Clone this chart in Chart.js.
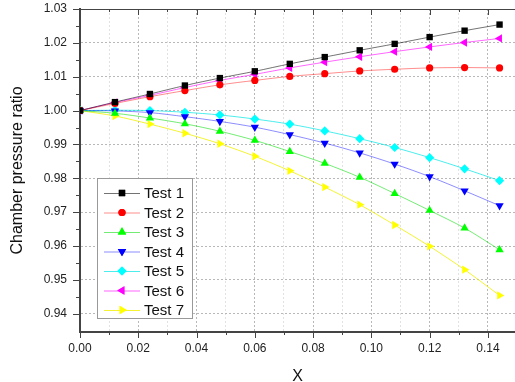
<!DOCTYPE html>
<html>
<head>
<meta charset="utf-8">
<script src="https://cdn.jsdelivr.net/npm/chart.js@4.4.1/dist/chart.umd.min.js"></script>
<style>
    html, body { margin: 0; padding: 0; background: #fff; }
    #wrap { width: 515px; height: 382px; position: relative; }
</style>
</head>
<body>
<div id="wrap"><canvas id="pressureChart"></canvas></div>
<script>
// Datos
const xValues = [0, 0.012, 0.024, 0.036, 0.048, 0.060, 0.072, 0.084, 0.096, 0.108, 0.120, 0.132, 0.144];

const test1 = [1.0000, 1.0025, 1.0049, 1.0074, 1.0096, 1.0116, 1.0138, 1.0158, 1.0178, 1.0197, 1.0217, 1.0236, 1.0254];
const test2 = [1.0000, 1.0021, 1.0041, 1.0059, 1.0076, 1.0089, 1.0101, 1.0109, 1.0117, 1.0122, 1.0126, 1.0127, 1.0126];
const test3 = [1.0000, 0.9992, 0.9978, 0.9961, 0.9939, 0.9912, 0.9879, 0.9844, 0.9803, 0.9755, 0.9705, 0.9653, 0.9589];
const test4 = [1.0000, 0.9999, 0.9994, 0.9982, 0.9968, 0.9951, 0.9929, 0.9904, 0.9875, 0.9842, 0.9805, 0.9763, 0.9719];
const test5 = [1.0000, 1.0001, 1.0000, 0.9995, 0.9987, 0.9975, 0.9960, 0.9940, 0.9917, 0.9891, 0.9861, 0.9828, 0.9793];
const test6 = [1.0000, 1.0024, 1.0045, 1.0068, 1.0089, 1.0107, 1.0126, 1.0143, 1.0159, 1.0174, 1.0188, 1.0201, 1.0213];
const test7 = [1.0000, 0.9984, 0.9960, 0.9933, 0.9902, 0.9865, 0.9822, 0.9774, 0.9722, 0.9662, 0.9599, 0.9530, 0.9454];

const seriesNames = ['Test 1', 'Test 2', 'Test 3', 'Test 4', 'Test 5', 'Test 6', 'Test 7'];

const xTicks = [0, 0.01, 0.02, 0.03, 0.04, 0.05, 0.06, 0.07, 0.08, 0.09, 0.10, 0.11, 0.12, 0.13, 0.14];
const yTicks = [0.94, 0.945, 0.95, 0.955, 0.96, 0.965, 0.97, 0.975, 0.98, 0.985, 0.99, 0.995, 1.00, 1.005, 1.01, 1.015, 1.02, 1.025, 1.03];

// Estilos de cada serie
const styles = [
    { color: '#000000', line: 'rgba(0,0,0,0.55)',      shape: 'rect',     rot: 0,   r: 4.5 },
    { color: '#ff0000', line: 'rgba(255,0,0,0.45)',    shape: 'circle',   rot: 0,   r: 3.6 },
    { color: '#00ff00', line: 'rgba(0,220,0,0.55)',    shape: 'triangle', rot: 0,   r: 4.8 },
    { color: '#0000ff', line: 'rgba(0,0,255,0.45)',    shape: 'triangle', rot: 180, r: 4.8 },
    { color: '#00ffff', line: 'rgba(0,230,230,0.7)',   shape: 'rectRot',  rot: 0,   r: 4.6 },
    { color: '#ff00ff', line: 'rgba(255,0,255,0.6)',   shape: 'triangle', rot: 270, r: 4.8 },
    { color: '#ffff00', line: 'rgba(240,240,0,0.8)',   shape: 'triangle', rot: 90,  r: 4.8 }
];

const allSeries = [test1, test2, test3, test4, test5, test6, test7];

function isMajor(v, step) {
    return Math.abs(Math.round(v / step) * step - v) < 1e-9;
}

// Marcas de eje (mayores y menores) y borde superior
const axisTicksPlugin = {
    id: 'axisTicks',
    afterDraw(chart) {
        const { ctx, chartArea, scales } = chart;
        ctx.save();
        ctx.strokeStyle = '#444';
        ctx.lineWidth = 1;
        // borde superior
        ctx.beginPath();
        ctx.moveTo(chartArea.left, chartArea.top + 0.5);
        ctx.lineTo(chartArea.right, chartArea.top + 0.5);
        ctx.stroke();
        ctx.beginPath();
        xTicks.forEach(v => {
            const px = Math.round(scales.x.getPixelForValue(v)) + 0.5;
            const len = isMajor(v, 0.02) ? 6 : 3;
            ctx.moveTo(px, chartArea.bottom);
            ctx.lineTo(px, chartArea.bottom + len);
            ctx.moveTo(px, chartArea.top);
            ctx.lineTo(px, chartArea.top + len);
        });
        yTicks.forEach(v => {
            const py = Math.round(scales.y.getPixelForValue(v)) + 0.5;
            const len = isMajor(v, 0.01) ? 7 : 4;
            ctx.moveTo(chartArea.left, py);
            ctx.lineTo(chartArea.left - len, py);
        });
        ctx.stroke();
        ctx.restore();
    }
};

// Leyenda dentro del área del gráfico
const insideLegendPlugin = {
    id: 'insideLegend',
    afterDraw(chart) {
        const ctx = chart.ctx;
        const box = { x: 97.5, y: 178.5, w: 95, h: 140 };
        ctx.save();
        ctx.fillStyle = '#fff';
        ctx.fillRect(box.x, box.y, box.w, box.h);
        ctx.strokeStyle = '#999';
        ctx.lineWidth = 1;
        ctx.strokeRect(box.x, box.y, box.w, box.h);
        ctx.font = '15px "Liberation Sans", Arial, sans-serif';
        ctx.textBaseline = 'middle';
        chart.data.datasets.forEach((ds, i) => {
            const y = 193 + i * 19.5;
            ctx.strokeStyle = ds.borderColor;
            ctx.lineWidth = 1;
            ctx.beginPath();
            ctx.moveTo(104, y + 0.5);
            ctx.lineTo(140, y + 0.5);
            ctx.stroke();
            ctx.fillStyle = ds.pointBackgroundColor;
            Chart.helpers.drawPoint(ctx, {
                pointStyle: ds.pointStyle,
                radius: ds.pointRadius,
                rotation: ds.pointRotation,
                borderWidth: 0
            }, 122, y);
            ctx.fill();
            ctx.fillStyle = '#111';
            ctx.fillText(ds.label, 144, y + 1);
        });
        ctx.restore();
    }
};

function initPressureChart() {
    const ctx = document.getElementById('pressureChart').getContext('2d');

    const datasets = allSeries.map((values, i) => ({
        label: seriesNames[i],
        data: values.map((v, j) => ({ x: xValues[j], y: v })),
        borderColor: styles[i].line,
        borderWidth: 1,
        pointStyle: styles[i].shape,
        pointRotation: styles[i].rot,
        pointRadius: styles[i].r,
        pointBackgroundColor: styles[i].color,
        pointBorderWidth: 0,
        tension: 0.3,
        fill: false
    }));

    Chart.defaults.font.family = '"Liberation Sans", Arial, sans-serif';
    Chart.defaults.color = '#222';

    new Chart(ctx, {
        type: 'line',
        data: { datasets },
        options: {
            responsive: true,
            maintainAspectRatio: false,
            animation: false,
            layout: { autoPadding: false, padding: { top: 9, right: 0, left: 0, bottom: 0 } },
            plugins: {
                legend: { display: false },
                tooltip: { enabled: false }
            },
            scales: {
                x: {
                    type: 'linear',
                    min: 0,
                    max: 0.1493,
                    afterBuildTicks: scale => { scale.ticks = xTicks.map(v => ({ value: v })); },
                    afterFit: scale => {
                        scale.height = 50;
                        scale.paddingRight = 0;
                        scale.paddingLeft = 0;
                    },
                    ticks: {
                        autoSkip: false,
                        maxRotation: 0,
                        padding: 9,
                        font: { size: 12 },
                        color: '#222',
                        callback: v => isMajor(v, 0.02) ? v.toFixed(2) : ''
                    },
                    grid: {
                        drawTicks: false,
                        color: c => (c.tick && isMajor(c.tick.value, 0.02)) ? '#b8b8b8' : '#e2e2e2'
                    },
                    border: { color: '#444', width: 2, dash: [2, 2] },
                    title: {
                        display: true,
                        text: 'X',
                        font: { size: 16 },
                        color: '#111',
                        padding: { top: 0, bottom: -4 }
                    }
                },
                y: {
                    type: 'linear',
                    min: 0.9346,
                    max: 1.03,
                    afterBuildTicks: scale => { scale.ticks = yTicks.map(v => ({ value: v })); },
                    afterFit: scale => {
                        scale.width = 80;
                        scale.paddingTop = 0;
                        scale.paddingBottom = 0;
                    },
                    ticks: {
                        autoSkip: false,
                        padding: 13,
                        font: { size: 12 },
                        color: '#222',
                        callback: v => isMajor(v, 0.01) ? v.toFixed(2) : ''
                    },
                    grid: {
                        drawTicks: false,
                        color: c => (c.tick && isMajor(c.tick.value, 0.01)) ? '#b8b8b8' : 'rgba(0,0,0,0)'
                    },
                    border: { color: '#444', width: 2, dash: [2, 2] },
                    title: {
                        display: true,
                        text: 'Chamber pressure ratio',
                        font: { size: 16 },
                        color: '#111',
                        padding: { top: 8, bottom: 0 }
                    }
                }
            }
        },
        plugins: [axisTicksPlugin, insideLegendPlugin]
    });
}

document.addEventListener('DOMContentLoaded', initPressureChart);
</script>
</body>
</html>
